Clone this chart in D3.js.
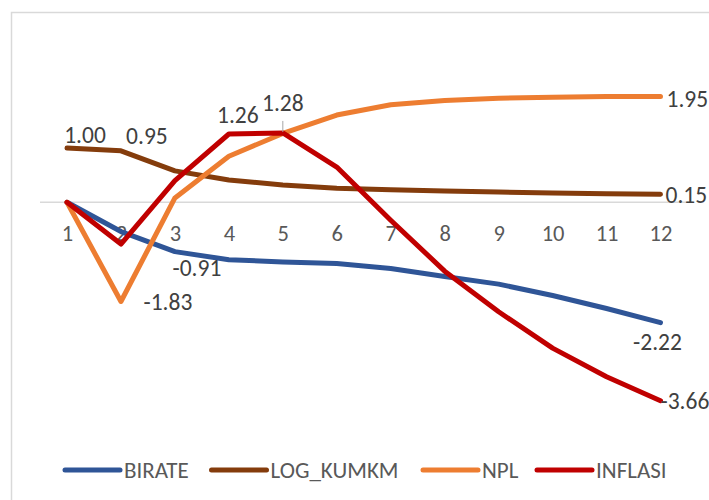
<!DOCTYPE html>
<html>
<head>
<meta charset="utf-8">
<script src="https://cdn.jsdelivr.net/npm/d3@7"></script>
<style>
  html, body { margin: 0; padding: 0; background: #fff; }
  svg { display: block; }
  text { font-family: Carlito, Calibri, "Liberation Sans", sans-serif; }
</style>
</head>
<body>
<svg id="chart" width="709" height="500"></svg>
<script>
// Periods on the horizontal axis
const periods = [1, 2, 3, 4, 5, 6, 7, 8, 9, 10, 11, 12];

// Response of each variable per period
const birate   = [0, -0.54, -0.91, -1.06, -1.10, -1.13, -1.22, -1.37, -1.51, -1.72, -1.96, -2.22];
const logKumkm = [1.00, 0.95, 0.58, 0.41, 0.32, 0.26, 0.23, 0.21, 0.19, 0.17, 0.16, 0.15];
const npl      = [0, -1.83, 0.08, 0.85, 1.27, 1.61, 1.80, 1.88, 1.92, 1.94, 1.95, 1.95];
const inflasi  = [0, -0.77, 0.40, 1.26, 1.28, 0.65, -0.33, -1.27, -2.02, -2.69, -3.22, -3.66];

const seriesNames = ["BIRATE", "LOG_KUMKM", "NPL", "INFLASI"];
const seriesValues = [birate, logKumkm, npl, inflasi];
const seriesColors = ["#2F5597", "#843C0C", "#ED7D31", "#C00000"];

// Labelled points: [series index, period index, dx, dy, anchor]
const labelled = [
  [1, 0, 18, -5, "middle"],
  [1, 1, 26, -7, "middle"],
  [3, 3, 9, -11, "middle"],
  [3, 4, 0, -22, "middle"],
  [2, 1, 47, 9, "middle"],
  [0, 2, 22, 24, "middle"],
  [0, 11, -3, 27, "middle"],
  [3, 11, 0, 8, "start"],
  [2, 11, 6, 10, "start"],
  [1, 11, 5, 9, "start"]
];

const svg = d3.select("#chart");

// Outer frame of the chart area
svg.append("path")
  .attr("d", "M11.5,520 V12.5 H720")
  .attr("fill", "none")
  .attr("stroke", "#D9D9D9")
  .attr("stroke-width", 1.5);

const x = d3.scalePoint().domain(periods).range([67, 660.5]);
const y = d3.scaleLinear().domain([-4, 2.5]).range([419.1, 66.8]);

// Zero line acting as the category axis
svg.append("line")
  .attr("x1", 40).attr("x2", 687)
  .attr("y1", y(0)).attr("y2", y(0))
  .attr("stroke", "#D9D9D9")
  .attr("stroke-width", 1.5);

const xAxis = d3.axisBottom(x).tickSize(0).tickPadding(0);
const gx = svg.append("g")
  .attr("transform", `translate(0,${y(0)})`)
  .call(xAxis);
gx.select(".domain").remove();
gx.selectAll("text")
  .attr("dy", null)
  .attr("y", 38.5)
  .attr("fill", "#595959")
  .style("font-size", "22.5px");

// Lines
const line = d3.line()
  .x((d, i) => x(periods[i]))
  .y(d => y(d));

svg.append("g")
  .selectAll("path")
  .data(seriesValues)
  .join("path")
  .attr("d", d => line(d))
  .attr("fill", "none")
  .attr("stroke", (d, i) => seriesColors[i])
  .attr("stroke-width", 5)
  .attr("stroke-linejoin", "round")
  .attr("stroke-linecap", "round");

// Leader line for the label of INFLASI period 5
svg.append("line")
  .attr("x1", x(5)).attr("x2", x(5))
  .attr("y1", y(inflasi[4]) - 12).attr("y2", y(inflasi[4]) - 1)
  .attr("stroke", "#A6A6A6")
  .attr("stroke-width", 1);

// Data labels
svg.append("g")
  .selectAll("text")
  .data(labelled)
  .join("text")
  .attr("x", d => x(periods[d[1]]) + d[2])
  .attr("y", d => y(seriesValues[d[0]][d[1]]) + d[3])
  .attr("text-anchor", d => d[4])
  .attr("fill", "#404040")
  .style("font-size", "23.5px")
  .text(d => seriesValues[d[0]][d[1]].toFixed(2));

// Legend
const legendX = [65, 211.5, 423, 537];
const legend = svg.append("g")
  .selectAll("g")
  .data(seriesNames)
  .join("g")
  .attr("transform", (d, i) => `translate(${legendX[i]},470)`);
legend.append("line")
  .attr("x1", 0).attr("x2", 55)
  .attr("stroke", (d, i) => seriesColors[i])
  .attr("stroke-width", 5)
  .attr("stroke-linecap", "round");
legend.append("text")
  .attr("x", 59)
  .attr("y", 8)
  .attr("fill", "#595959")
  .style("font-size", "23px")
  .text(d => d);
</script>
</body>
</html>
